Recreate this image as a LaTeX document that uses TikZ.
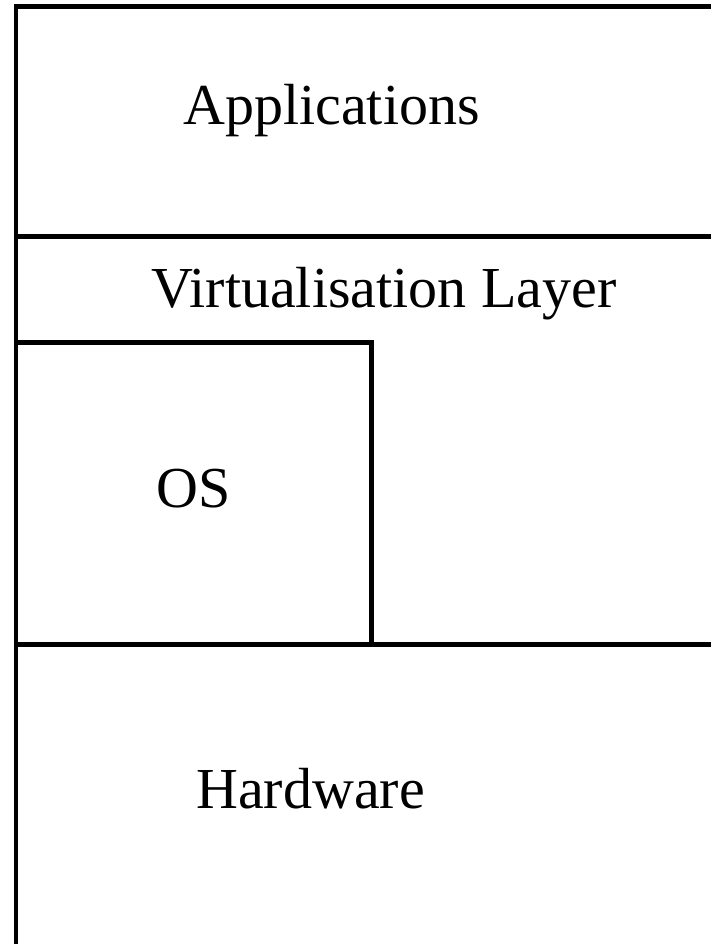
\documentclass[tikz,border=0pt]{standalone}
\usepackage{fontspec}
\setmainfont{Liberation Serif}
\begin{document}
\begin{tikzpicture}[x=0.75pt,y=-0.75pt,
  wall/.style={line width=3.4pt,line cap=butt},
  lbl/.style={anchor=base west,inner sep=0pt,font=\fontsize{43.5pt}{50pt}\selectfont}]
\useasboundingbox (0,0) rectangle (711,944);
% outer frame
\coordinate (tl) at (14,6.5);
\coordinate (tr) at (711,6.5);
\coordinate (lt) at (16,4.5);
\coordinate (lb) at (16,944);
\draw[wall] (tl) -- (tr);
\draw[wall] (lt) -- (lb);
% layer separators
\coordinate (s1l) at (16,236.5);
\coordinate (s1r) at (711,236.5);
\draw[wall] (s1l) -- (s1r);
\coordinate (s3l) at (16,644.5);
\coordinate (s3r) at (711,644.5);
\draw[wall] (s3l) -- (s3r);
% OS box
\coordinate (osl) at (16,342.5);
\coordinate (ostr) at (371.5,342.5);
\coordinate (osbr) at (371.5,646.5);
\draw[wall] (osl) -- (ostr) -- (osbr);
% labels
\node[lbl] (apps) at (183,125) {Applications};
\node[lbl] (virt) at (151,308) {Virtualisation Layer};
\node[lbl] (os) at (156,507) {OS};
\node[lbl] (hw) at (196,808) {Hardware};
\end{tikzpicture}
\end{document}
